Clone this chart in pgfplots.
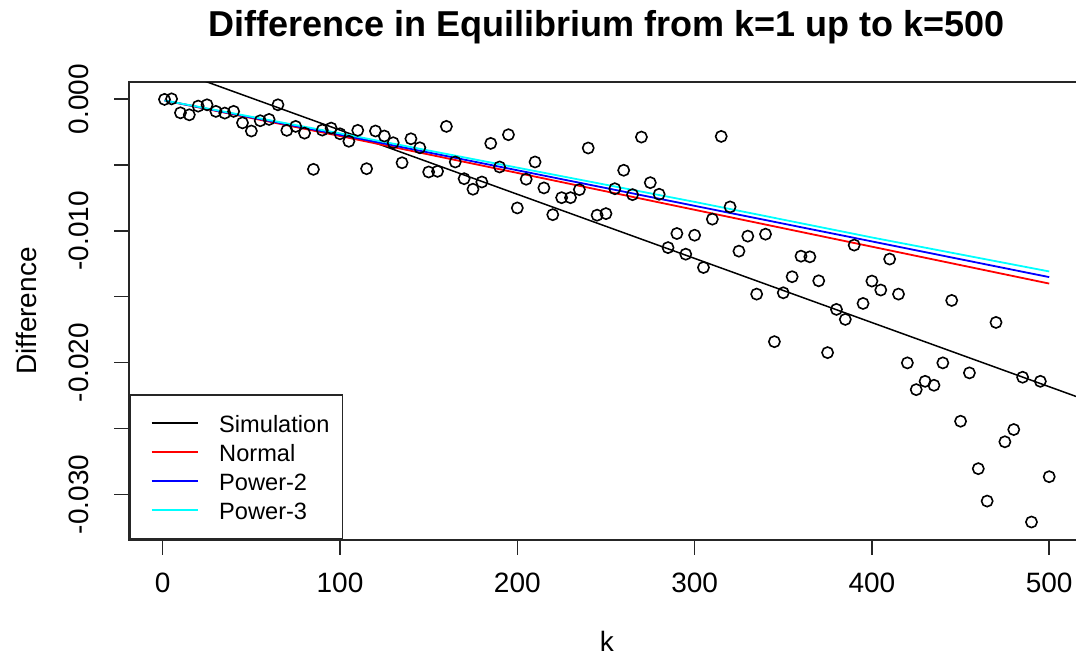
\documentclass[border=0pt]{standalone}
\usepackage{fontspec}
\setmainfont{Liberation Sans}
\usepackage{pgfplots}
\usepackage{pgfplotstable}
\pgfplotsset{compat=1.18}
\definecolor{rred}{RGB}{255,0,0}
\definecolor{rblue}{RGB}{0,0,255}
\definecolor{rcyan}{RGB}{0,255,255}
\pgfplotstableread{
k y
1 -0.00002
5 0.00002
10 -0.00104
15 -0.00119
20 -0.00053
25 -0.00043
30 -0.00093
35 -0.00106
40 -0.00093
45 -0.00180
50 -0.00242
55 -0.00164
60 -0.00154
65 -0.00043
70 -0.00237
75 -0.00207
80 -0.00258
85 -0.00533
90 -0.00235
95 -0.00220
100 -0.00263
105 -0.00320
110 -0.00237
115 -0.00528
120 -0.00242
125 -0.00280
130 -0.00331
135 -0.00483
140 -0.00301
145 -0.00369
150 -0.00553
155 -0.00548
160 -0.00207
165 -0.00477
170 -0.00604
175 -0.00684
180 -0.00629
185 -0.00336
190 -0.00515
195 -0.00270
200 -0.00826
205 -0.00608
210 -0.00477
215 -0.00674
220 -0.00877
225 -0.00748
230 -0.00748
235 -0.00687
240 -0.00371
245 -0.00881
250 -0.00869
255 -0.00680
260 -0.00540
265 -0.00725
270 -0.00288
275 -0.00634
280 -0.00722
285 -0.01127
290 -0.01020
295 -0.01177
300 -0.01033
305 -0.01278
310 -0.00911
315 -0.00283
320 -0.00818
325 -0.01154
330 -0.01040
335 -0.01480
340 -0.01025
345 -0.01841
350 -0.01470
355 -0.01348
360 -0.01192
365 -0.01197
370 -0.01379
375 -0.01924
380 -0.01596
385 -0.01672
390 -0.01108
395 -0.01551
400 -0.01381
405 -0.01449
410 -0.01214
415 -0.01480
420 -0.02002
425 -0.02205
430 -0.02142
435 -0.02172
440 -0.02002
445 -0.01528
450 -0.02445
455 -0.02078
460 -0.02805
465 -0.03051
470 -0.01695
475 -0.02601
480 -0.02508
485 -0.02111
490 -0.03210
495 -0.02142
500 -0.02866
}\pts
\begin{document}
\begin{tikzpicture}
\begin{axis}[
  scale only axis, width=477.75pt, height=228.9pt,
  xmin=-18.96, xmax=519.96, ymin=-0.03345, ymax=0.0013,
  scaled y ticks=false, scaled x ticks=false,
  axis line style={line width=0.75pt, black!85},
  xtick={0,100,200,300,400,500},
  xticklabels={0,100,200,300,400,500},
  ytick={-0.030,-0.025,-0.020,-0.015,-0.010,-0.005,0},
  yticklabels={-0.030,,-0.020,,-0.010,,0.000},
  tick align=outside, major tick length=7.5pt,
  xtick pos=bottom, ytick pos=left,
  tick style={line width=0.75pt, black!85},
  tick label style={font=\fontsize{14}{16}\selectfont},
  xticklabel style={anchor=base, yshift=-19pt},
  yticklabel style={rotate=90, anchor=base},
  yticklabel shift=12.8pt,
  title={Difference in Equilibrium from k=1 up to k=500},
  every axis title/.style={font=\bfseries\fontsize{18}{20}\selectfont, at={(axis description cs:0.5,1.1004)}, anchor=base},
  xlabel={k},
  xlabel style={font=\fontsize{14}{16}\selectfont, at={(axis description cs:0.5,-0.2446)}, anchor=base},
  ylabel={Difference},
  ylabel style={font=\fontsize{14}{16}\selectfont, at={(axis description cs:-0.0964,0.5)}, anchor=base},
  legend style={at={(0,0)}, anchor=south west, draw=black!85, line width=0.75pt, fill=white,
    inner xsep=6.65pt, inner ysep=7.15pt, row sep=0.15pt,
    font=\fontsize{11.8}{14}\selectfont,
    nodes={inner sep=0pt, text height=11.85pt, text depth=2.5pt, anchor=base west},
    /tikz/every odd column/.append style={column sep=10.3pt}},
  legend cell align=left,
  legend image code/.code={\path (0pt,0pt); \draw[#1, line width=0.9pt] (3.85pt,4.7pt) -- (26.85pt,4.7pt);},
]
\addplot[only marks, mark=o, mark size=2.8pt, mark options={line width=0.8pt, black}, forget plot] table[x=k, y=y] {\pts};
\addplot[black, line width=0.75pt] coordinates {(-20,0.003494) (520,-0.022804)};
\addlegendentry{Simulation}
\addplot[rred, line width=0.9pt] coordinates {(1,-0.0001) (100,-0.0028) (200,-0.0056) (300,-0.0084) (400,-0.0112) (500,-0.0140)};
\addlegendentry{Normal}
\addplot[rblue, line width=0.9pt] coordinates {(1,-0.0001) (100,-0.0027) (200,-0.0054) (300,-0.0081) (400,-0.0108) (500,-0.01351)};
\addlegendentry{Power-2}
\addplot[rcyan, line width=0.9pt] coordinates {(1,-0.0001) (100,-0.0026) (200,-0.0052) (300,-0.0078) (400,-0.0105) (500,-0.01308)};
\addlegendentry{Power-3}
\end{axis}
\pgfresetboundingbox
\useasboundingbox ([xshift=-64.55pt,yshift=41pt]current axis.north west) rectangle ([xshift=473.45pt,yshift=-58pt]current axis.south west);
\end{tikzpicture}
\end{document}
